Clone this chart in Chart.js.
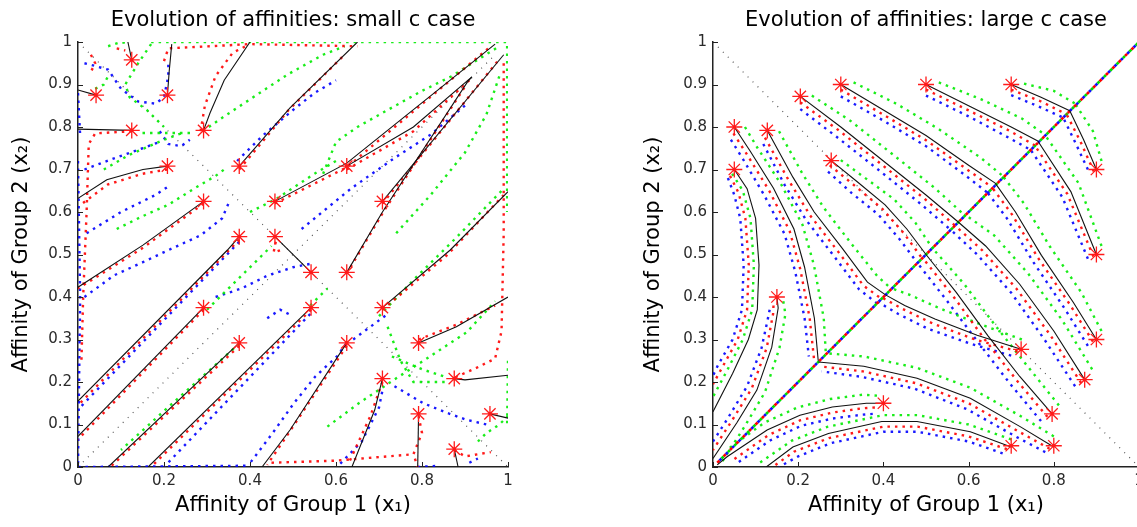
<!DOCTYPE html>
<html>
<head>
<meta charset="utf-8">
<script src="https://cdn.jsdelivr.net/npm/chart.js@4.4.1/dist/chart.umd.min.js"></script>
<style>
    body { margin: 0; width: 1137px; height: 527px; overflow: hidden; position: relative; background: #fff; }
    canvas { position: absolute; top: 0; }
</style>
</head>
<body>
<canvas id="grafikKiri" width="560" height="527" style="left:0"></canvas>
<canvas id="grafikKanan" width="620" height="527" style="left:580px"></canvas>
<script>
// axis ticks
const xTickValues = [0, 0.2, 0.4, 0.6, 0.8, 1];
const xTickLabels = ['0', '0.2', '0.4', '0.6', '0.8', '1'];
const yTickValues = [0, 0.1, 0.2, 0.3, 0.4, 0.5, 0.6, 0.7, 0.8, 0.9, 1];
const yTickLabels = ['0', '0.1', '0.2', '0.3', '0.4', '0.5', '0.6', '0.7', '0.8', '0.9', '1'];

// ---- small c case ----
const leftStars = [
    [0.125, 0.958], [0.042, 0.875], [0.208, 0.875], [0.125, 0.792], [0.292, 0.792],
    [0.208, 0.708], [0.375, 0.708], [0.292, 0.625], [0.458, 0.625], [0.625, 0.708],
    [0.375, 0.542], [0.458, 0.542], [0.542, 0.458], [0.708, 0.625], [0.625, 0.458],
    [0.292, 0.375], [0.542, 0.375], [0.375, 0.292], [0.708, 0.375], [0.625, 0.292],
    [0.792, 0.292], [0.708, 0.208], [0.875, 0.208], [0.792, 0.125], [0.958, 0.125],
    [0.875, 0.042]
];
const leftBlack = [
    [[0.125, 0.958], [0.116, 1.0]],
    [[0.042, 0.875], [0.0, 0.887]],
    [[0.208, 0.875], [0.212, 0.93], [0.218, 0.995]],
    [[0.125, 0.792], [0.0, 0.795]],
    [[0.292, 0.792], [0.307, 0.833], [0.34, 0.91], [0.40, 1.0]],
    [[0.208, 0.708], [0.151, 0.70], [0.067, 0.676], [0.0, 0.632]],
    [[0.375, 0.708], [0.493, 0.845], [0.65, 1.0]],
    [[0.292, 0.625], [0.151, 0.522], [0.0, 0.423]],
    [[0.458, 0.625], [0.625, 0.715], [0.97, 0.995]],
    [[0.625, 0.708], [0.78, 0.80], [0.916, 0.918]],
    [[0.708, 0.625], [0.99, 0.97]],
    [[0.625, 0.458], [0.708, 0.60], [0.905, 0.905], [0.916, 0.918]],
    [[0.375, 0.542], [0.347, 0.51], [0.0, 0.155]],
    [[0.458, 0.542], [0.542, 0.458]],
    [[0.292, 0.375], [0.0, 0.072]],
    [[0.375, 0.292], [0.07, 0.0]],
    [[0.542, 0.375], [0.163, 0.0]],
    [[0.625, 0.292], [0.493, 0.087], [0.428, 0.0]],
    [[0.708, 0.375], [0.865, 0.51], [1.0, 0.648]],
    [[0.792, 0.292], [0.88, 0.33], [1.0, 0.40]],
    [[0.708, 0.208], [0.69, 0.134], [0.637, 0.0]],
    [[0.875, 0.208], [0.90, 0.205], [1.0, 0.216]],
    [[0.792, 0.125], [0.79, 0.0]],
    [[0.958, 0.125], [1.0, 0.115]],
    [[0.875, 0.042], [0.884, 0.0]]
];
const leftRed = [
    [[0.20, 0.955], [0.21, 0.985], [0.40, 0.995], [0.65, 0.99]],
    [[0.285, 0.79], [0.295, 0.85], [0.32, 0.92], [0.36, 0.975], [0.39, 0.99]],
    [[0.125, 0.79], [0.04, 0.785], [0.025, 0.76], [0.02, 0.60], [0.012, 0.40], [0.008, 0.25]],
    [[0.208, 0.70], [0.15, 0.69], [0.07, 0.665], [0.01, 0.62]],
    [[0.292, 0.62], [0.15, 0.515], [0.0, 0.42]],
    [[0.375, 0.70], [0.49, 0.84], [0.62, 0.97]],
    [[0.458, 0.62], [0.625, 0.705], [0.96, 0.99]],
    [[0.625, 0.70], [0.78, 0.79], [0.91, 0.91]],
    [[0.708, 0.62], [0.98, 0.96]],
    [[0.625, 0.455], [0.71, 0.60], [0.90, 0.895]],
    [[0.375, 0.535], [0.0, 0.145]],
    [[0.292, 0.37], [0.0, 0.065]],
    [[0.375, 0.285], [0.075, 0.0]],
    [[0.542, 0.37], [0.17, 0.0]],
    [[0.625, 0.285], [0.49, 0.08], [0.44, 0.005]],
    [[0.708, 0.37], [0.86, 0.50], [0.99, 0.64]],
    [[0.792, 0.30], [0.88, 0.335], [0.97, 0.38]],
    [[0.99, 0.95], [0.99, 0.55], [0.985, 0.32], [0.97, 0.255], [0.92, 0.23], [0.875, 0.21]],
    [[0.708, 0.20], [0.68, 0.12], [0.63, 0.01]],
    [[0.45, 0.01], [0.60, 0.015], [0.72, 0.025], [0.78, 0.03]],
    [[0.792, 0.12], [0.80, 0.08], [0.78, 0.03], [0.79, 0.0]],
    [[0.875, 0.04], [0.90, 0.025], [0.96, 0.035]],
    [[0.46, 0.53], [0.455, 0.505], [0.47, 0.51]],
    [[0.03, 0.97], [0.04, 0.95], [0.03, 0.93]],
    [[0.09, 0.985], [0.11, 0.98]]
];
const leftGreen = [
    [[0.17, 1.0], [0.998, 1.0], [0.998, 0.60]],
    [[1.0, 0.25], [0.998, 0.10]],
    [[0.07, 0.99], [0.10, 1.0], [0.12, 0.995]],
    [[0.04, 0.89], [0.06, 0.90], [0.07, 0.92]],
    [[0.17, 0.995], [0.14, 0.95], [0.11, 0.90], [0.12, 0.87], [0.16, 0.84], [0.20, 0.80]],
    [[0.15, 0.786], [0.27, 0.786]],
    [[0.06, 0.70], [0.12, 0.735], [0.20, 0.77], [0.24, 0.785]],
    [[0.09, 0.56], [0.15, 0.59], [0.21, 0.617], [0.27, 0.655], [0.32, 0.685], [0.34, 0.70]],
    [[0.29, 0.79], [0.34, 0.825], [0.40, 0.865], [0.49, 0.925], [0.57, 0.97], [0.62, 0.99]],
    [[0.57, 0.69], [0.60, 0.765], [0.65, 0.80], [0.72, 0.84], [0.80, 0.885], [0.87, 0.92], [0.94, 0.965], [0.98, 0.99]],
    [[0.40, 0.60], [0.46, 0.63], [0.55, 0.69], [0.60, 0.72]],
    [[0.74, 0.55], [0.82, 0.64], [0.90, 0.74], [0.95, 0.83], [0.98, 0.92]],
    [[0.58, 0.095], [0.653, 0.15], [0.736, 0.206], [0.82, 0.261], [0.904, 0.317], [0.97, 0.39]],
    [[0.70, 0.355], [0.78, 0.44], [0.88, 0.54], [0.99, 0.655]],
    [[0.30, 0.37], [0.37, 0.44], [0.45, 0.52]],
    [[0.375, 0.29], [0.22, 0.15], [0.10, 0.04]],
    [[0.54, 0.38], [0.58, 0.42]],
    [[0.72, 0.33], [0.75, 0.25], [0.78, 0.20], [0.86, 0.20]],
    [[0.93, 0.06], [0.95, 0.08], [0.98, 0.10], [1.0, 0.12]],
    [[0.73, 0.26], [0.80, 0.23], [0.86, 0.21]]
];
const leftBlue = [
    [[0.0, 0.88], [0.005, 0.78]],
    [[0.0, 0.72], [0.005, 0.40], [0.0, 0.0]],
    [[0.0, 0.0], [0.40, 0.003]],
    [[0.015, 0.95], [0.035, 0.945], [0.07, 0.935], [0.10, 0.89], [0.14, 0.86], [0.18, 0.855], [0.20, 0.87], [0.21, 0.92], [0.21, 0.95]],
    [[0.19, 0.79], [0.21, 0.76], [0.24, 0.755], [0.26, 0.77]],
    [[0.015, 0.70], [0.08, 0.725], [0.15, 0.75], [0.19, 0.765]],
    [[0.02, 0.55], [0.10, 0.60], [0.18, 0.64], [0.21, 0.66]],
    [[0.015, 0.40], [0.084, 0.451], [0.151, 0.482], [0.218, 0.514], [0.285, 0.545], [0.335, 0.585], [0.35, 0.62]],
    [[0.37, 0.72], [0.43, 0.78], [0.50, 0.84], [0.55, 0.88], [0.60, 0.91]],
    [[0.52, 0.56], [0.636, 0.656], [0.736, 0.727], [0.82, 0.782], [0.904, 0.854]],
    [[0.375, 0.53], [0.0, 0.135]],
    [[0.32, 0.40], [0.38, 0.42], [0.44, 0.45], [0.50, 0.47], [0.55, 0.48]],
    [[0.44, 0.35], [0.47, 0.37], [0.49, 0.36]],
    [[0.54, 0.36], [0.20, 0.0]],
    [[0.402, 0.012], [0.452, 0.079], [0.502, 0.15], [0.552, 0.213], [0.603, 0.261], [0.63, 0.30]],
    [[0.61, 0.008], [0.66, 0.06], [0.70, 0.14], [0.71, 0.19]],
    [[0.64, 0.30], [0.68, 0.33], [0.72, 0.36]],
    [[0.736, 0.19], [0.803, 0.15], [0.862, 0.126], [0.904, 0.111], [0.95, 0.10]],
    [[0.79, 0.0], [0.84, 0.003]],
    [[0.91, 0.01], [0.93, 0.02]]
];
const leftGuides = [
    [[0, 0], [0.97, 0.97]],
    [[0, 1], [1, 0]]
];

// ---- large c case ----
const rightStars = [
    [0.05, 0.80], [0.05, 0.70], [0.1275, 0.792], [0.205, 0.872], [0.30, 0.90], [0.50, 0.90],
    [0.70, 0.90], [0.2775, 0.721], [0.15, 0.40], [0.40, 0.15], [0.70, 0.05], [0.80, 0.05],
    [0.796, 0.125], [0.8725, 0.2055], [0.7233, 0.277], [0.90, 0.30], [0.90, 0.50], [0.90, 0.70]
];
const rightBlack = [
    [[0.05, 0.70], [0.08, 0.655], [0.10, 0.585], [0.108, 0.475], [0.104, 0.37], [0.083, 0.30], [0.046, 0.22], [0, 0.13]],
    [[0.05, 0.80], [0.0875, 0.743], [0.142, 0.656], [0.19, 0.56], [0.215, 0.47], [0.238, 0.35], [0.247, 0.25]],
    [[0.15, 0.40], [0.153, 0.374], [0.138, 0.282], [0.103, 0.181], [0.056, 0.104], [0, 0.02]],
    [[0.40, 0.15], [0.36, 0.15], [0.28, 0.141], [0.204, 0.122], [0.127, 0.087], [0.033, 0.024], [0.01, 0.005]],
    [[0.70, 0.047], [0.604, 0.083], [0.479, 0.107], [0.396, 0.107], [0.271, 0.079], [0.1875, 0.047], [0.125, 0]],
    [[0.80, 0.047], [0.721, 0.095], [0.604, 0.162], [0.479, 0.209], [0.354, 0.237], [0.2475, 0.247]],
    [[0.1275, 0.792], [0.1875, 0.682], [0.2375, 0.60], [0.304, 0.514], [0.3625, 0.435], [0.405, 0.405]],
    [[0.2775, 0.721], [0.34, 0.67], [0.404, 0.617], [0.455, 0.56], [0.50, 0.50]],
    [[0.205, 0.872], [0.30, 0.80], [0.40, 0.72], [0.50, 0.64], [0.575, 0.577]],
    [[0.30, 0.90], [0.40, 0.84], [0.50, 0.78], [0.60, 0.71], [0.6625, 0.668]],
    [[0.50, 0.90], [0.60, 0.85], [0.70, 0.80], [0.7625, 0.767]],
    [[0.70, 0.90], [0.77, 0.87], [0.8375, 0.838]],
    [[0.7233, 0.277], [0.62, 0.31], [0.521, 0.348], [0.45, 0.38], [0.405, 0.405]],
    [[0.796, 0.125], [0.72, 0.213], [0.646, 0.308], [0.571, 0.411], [0.50, 0.50]],
    [[0.8725, 0.2055], [0.80, 0.32], [0.72, 0.43], [0.64, 0.52], [0.575, 0.577]],
    [[0.90, 0.30], [0.846, 0.387], [0.771, 0.498], [0.71, 0.60], [0.6625, 0.668]],
    [[0.90, 0.50], [0.84, 0.648], [0.7625, 0.767]],
    [[0.90, 0.70], [0.87, 0.77], [0.8375, 0.838]]
];
const rightRed = [
    [[0.04, 0.685], [0.06, 0.645], [0.076, 0.585], [0.084, 0.475], [0.08, 0.37], [0.058, 0.30], [0.022, 0.235], [0, 0.195]],
    [[0.048, 0.785], [0.08, 0.735], [0.132, 0.65], [0.18, 0.555], [0.205, 0.465], [0.227, 0.35], [0.237, 0.255]],
    [[0.142, 0.38], [0.141, 0.36], [0.126, 0.28], [0.091, 0.185], [0.045, 0.11], [0, 0.04]],
    [[0.38, 0.14], [0.35, 0.138], [0.28, 0.128], [0.205, 0.11], [0.13, 0.075], [0.045, 0.015]],
    [[0.69, 0.042], [0.60, 0.072], [0.48, 0.095], [0.40, 0.095], [0.272, 0.068], [0.19, 0.036], [0.14, 0]],
    [[0.79, 0.043], [0.715, 0.085], [0.60, 0.15], [0.477, 0.197], [0.352, 0.225], [0.25, 0.237]],
    [[0.122, 0.775], [0.178, 0.674], [0.228, 0.592], [0.295, 0.505], [0.353, 0.427], [0.395, 0.396]],
    [[0.274, 0.71], [0.335, 0.66], [0.398, 0.607], [0.448, 0.55], [0.49, 0.492]],
    [[0.205, 0.858], [0.298, 0.79], [0.398, 0.71], [0.498, 0.63], [0.568, 0.568]],
    [[0.30, 0.888], [0.40, 0.829], [0.50, 0.769], [0.598, 0.699], [0.655, 0.658]],
    [[0.50, 0.888], [0.60, 0.839], [0.70, 0.789], [0.755, 0.757]],
    [[0.70, 0.888], [0.77, 0.86], [0.83, 0.83]],
    [[0.715, 0.272], [0.615, 0.30], [0.515, 0.338], [0.445, 0.372], [0.398, 0.398]],
    [[0.785, 0.118], [0.712, 0.205], [0.638, 0.30], [0.563, 0.403], [0.492, 0.492]],
    [[0.864, 0.198], [0.792, 0.31], [0.712, 0.42], [0.632, 0.51], [0.568, 0.568]],
    [[0.892, 0.295], [0.838, 0.382], [0.763, 0.492], [0.702, 0.594], [0.655, 0.658]],
    [[0.893, 0.495], [0.832, 0.642], [0.755, 0.757]],
    [[0.894, 0.695], [0.863, 0.765], [0.83, 0.83]]
];
const rightGreen = [
    [[0.045, 0.69], [0.07, 0.65], [0.088, 0.585], [0.096, 0.475], [0.092, 0.37], [0.07, 0.30], [0.032, 0.225], [0, 0.165]],
    [[0.075, 0.80], [0.105, 0.75], [0.16, 0.665], [0.21, 0.57], [0.237, 0.475], [0.26, 0.35], [0.265, 0.265]],
    [[0.165, 0.39], [0.17, 0.36], [0.156, 0.28], [0.122, 0.176], [0.074, 0.095], [0.02, 0.01]],
    [[0.385, 0.168], [0.35, 0.17], [0.275, 0.16], [0.198, 0.14], [0.12, 0.104], [0.035, 0.042]],
    [[0.70, 0.065], [0.60, 0.10], [0.48, 0.122], [0.40, 0.122], [0.27, 0.095], [0.185, 0.062], [0.11, 0.01]],
    [[0.80, 0.072], [0.725, 0.118], [0.605, 0.186], [0.48, 0.233], [0.355, 0.26], [0.262, 0.268]],
    [[0.155, 0.79], [0.21, 0.69], [0.26, 0.61], [0.325, 0.525], [0.385, 0.45], [0.42, 0.418]],
    [[0.30, 0.722], [0.36, 0.678], [0.425, 0.63], [0.475, 0.575], [0.515, 0.515]],
    [[0.232, 0.874], [0.322, 0.815], [0.42, 0.737], [0.52, 0.657], [0.59, 0.593]],
    [[0.33, 0.905], [0.43, 0.855], [0.53, 0.795], [0.628, 0.728], [0.68, 0.685]],
    [[0.53, 0.905], [0.63, 0.865], [0.725, 0.82], [0.778, 0.783]],
    [[0.73, 0.902], [0.80, 0.885], [0.85, 0.855]],
    [[0.725, 0.30], [0.63, 0.335], [0.535, 0.372], [0.462, 0.405], [0.42, 0.42]],
    [[0.812, 0.145], [0.74, 0.235], [0.665, 0.33], [0.59, 0.43], [0.515, 0.515]],
    [[0.89, 0.23], [0.82, 0.345], [0.74, 0.455], [0.66, 0.545], [0.59, 0.595]],
    [[0.912, 0.32], [0.865, 0.41], [0.79, 0.52], [0.73, 0.62], [0.68, 0.685]],
    [[0.912, 0.52], [0.858, 0.668], [0.778, 0.783]],
    [[0.912, 0.72], [0.892, 0.79], [0.85, 0.855]]
];
const rightBlue = [
    [[0.035, 0.68], [0.05, 0.64], [0.064, 0.585], [0.072, 0.475], [0.068, 0.37], [0.046, 0.30], [0.012, 0.24], [0, 0.215]],
    [[0.042, 0.77], [0.07, 0.725], [0.12, 0.64], [0.168, 0.548], [0.193, 0.46], [0.215, 0.35], [0.225, 0.26]],
    [[0.133, 0.37], [0.129, 0.35], [0.114, 0.28], [0.08, 0.19], [0.035, 0.115], [0, 0.06]],
    [[0.375, 0.125], [0.35, 0.123], [0.28, 0.114], [0.207, 0.097], [0.135, 0.063], [0.055, 0.008]],
    [[0.68, 0.032], [0.60, 0.06], [0.48, 0.083], [0.40, 0.083], [0.276, 0.056], [0.20, 0.025], [0.155, 0]],
    [[0.78, 0.035], [0.71, 0.072], [0.596, 0.136], [0.474, 0.184], [0.35, 0.212], [0.255, 0.225]],
    [[0.118, 0.76], [0.168, 0.664], [0.218, 0.582], [0.284, 0.496], [0.343, 0.418], [0.385, 0.385]],
    [[0.27, 0.695], [0.325, 0.645], [0.388, 0.594], [0.438, 0.536], [0.48, 0.48]],
    [[0.205, 0.842], [0.29, 0.777], [0.39, 0.698], [0.49, 0.617], [0.558, 0.558]],
    [[0.30, 0.872], [0.40, 0.815], [0.50, 0.755], [0.59, 0.688], [0.645, 0.645]],
    [[0.50, 0.874], [0.60, 0.825], [0.692, 0.776], [0.746, 0.746]],
    [[0.70, 0.875], [0.765, 0.848], [0.822, 0.822]],
    [[0.70, 0.262], [0.605, 0.29], [0.505, 0.325], [0.435, 0.36], [0.388, 0.388]],
    [[0.77, 0.108], [0.698, 0.195], [0.625, 0.29], [0.55, 0.39], [0.48, 0.48]],
    [[0.85, 0.19], [0.778, 0.30], [0.70, 0.41], [0.62, 0.50], [0.558, 0.558]],
    [[0.88, 0.285], [0.826, 0.372], [0.752, 0.482], [0.69, 0.585], [0.645, 0.645]],
    [[0.88, 0.49], [0.82, 0.635], [0.746, 0.746]],
    [[0.88, 0.70], [0.852, 0.76], [0.822, 0.822]]
];
// the x1 = x2 line every trajectory ends on
const rightDiagonal = [[0.01, 0.01], [1.0, 1.0]];
const rightGuides = [
    [[0, 1], [1, 0]]
];

Chart.defaults.font.family = "'DejaVu Sans', sans-serif";
Chart.defaults.color = '#222';

// short tick marks pointing into the plot
const tickDalam = {
    id: 'tickDalam',
    afterDraw(chart) {
        const { ctx, chartArea, scales } = chart;
        ctx.save();
        ctx.strokeStyle = '#222';
        ctx.lineWidth = 1;
        ctx.beginPath();
        scales.x.ticks.forEach(function (t) {
            let px = Math.round(scales.x.getPixelForValue(t.value)) + 0.5;
            ctx.moveTo(px, chartArea.bottom);
            ctx.lineTo(px, chartArea.bottom - 5);
        });
        scales.y.ticks.forEach(function (t) {
            let py = Math.round(scales.y.getPixelForValue(t.value)) + 0.5;
            ctx.moveTo(chartArea.left, py);
            ctx.lineTo(chartArea.left + 5, py);
        });
        ctx.stroke();
        ctx.restore();
    }
};

function toXY(path) {
    return path.map(function (p) { return { x: p[0], y: p[1] }; });
}

function garis(paths, color, width, dash, order, dashOffset) {
    return paths.map(function (path) {
        return {
            data: toXY(path),
            showLine: true,
            borderColor: color,
            borderWidth: width,
            borderDash: dash,
            borderDashOffset: dashOffset || 0,
            pointRadius: 0,
            fill: false,
            order: order
        };
    });
}

function buatGrafik(idGrafik, judul, param) {
    let datasets = [{
        data: toXY(param.stars),
        showLine: false,
        pointStyle: 'star',
        pointRadius: 8,
        borderColor: '#ff1a1a',
        backgroundColor: '#ff1a1a',
        borderWidth: 1.3,
        order: 0
    }];
    datasets = datasets
        .concat(garis(param.black, '#111', 1.1, [], 1))
        .concat(garis(param.red, 'rgba(255, 0, 0, 0.9)', 2.4, [2.5, 5], 2))
        .concat(garis(param.green, 'rgba(0, 235, 0, 0.9)', 2.4, [2.5, 5], 3))
        .concat(garis(param.blue, 'rgba(0, 0, 255, 0.9)', 2.4, [2.5, 5], 4))
        .concat(garis(param.guides, '#555', 1.2, [1, 6], 5));

    if (param.diagonal) {
        // colours alternate along the shared line
        datasets = datasets
            .concat(garis([param.diagonal], '#ff0000', 2.6, [3, 6], 2, 0))
            .concat(garis([param.diagonal], '#00e000', 2.6, [3, 6], 2, 3))
            .concat(garis([param.diagonal], '#1010ff', 2.6, [3, 6], 2, 6));
    }

    return new Chart(idGrafik, {
        type: 'scatter',
        data: { datasets: datasets },
        plugins: [tickDalam],
        options: {
            responsive: false,
            animation: false,
            devicePixelRatio: 1,
            layout: { padding: { left: 0, right: param.padKanan, top: 0, bottom: 0 } },
            plugins: {
                legend: { display: false },
                tooltip: { enabled: false },
                title: {
                    display: true,
                    text: judul,
                    fullSize: false,
                    color: '#000',
                    font: { size: 21, weight: 'normal', lineHeight: 1.2 },
                    padding: { top: 8, bottom: 8.8 }
                }
            },
            scales: {
                x: {
                    type: 'linear',
                    min: 0,
                    max: 1,
                    afterBuildTicks: function (scale) {
                        scale.ticks = xTickValues.map(function (v) { return { value: v }; });
                    },
                    afterFit: function (scale) { scale.height = 60; },
                    grid: { display: false, drawTicks: false },
                    border: { display: true, color: '#222', width: 1.5 },
                    ticks: {
                        padding: 5,
                        color: '#2a2a2a',
                        font: { size: 15 },
                        maxRotation: 0,
                        callback: function (value, index) { return xTickLabels[index]; }
                    },
                    title: {
                        display: true,
                        text: 'Affinity of Group 1 (x₁)',
                        color: '#000',
                        font: { size: 21, lineHeight: 1.2 },
                        padding: { top: 0, bottom: 8.7 }
                    }
                },
                y: {
                    type: 'linear',
                    min: 0,
                    max: 1,
                    afterBuildTicks: function (scale) {
                        scale.ticks = yTickValues.map(function (v) { return { value: v }; });
                    },
                    afterFit: function (scale) { scale.width = param.lebarY; },
                    grid: { display: false, drawTicks: false },
                    border: { display: true, color: '#222', width: 1.5 },
                    ticks: {
                        padding: 6,
                        color: '#2a2a2a',
                        font: { size: 15 },
                        callback: function (value, index) { return yTickLabels[index]; }
                    },
                    title: {
                        display: true,
                        text: 'Affinity of Group 2 (x₂)',
                        color: '#000',
                        font: { size: 21, lineHeight: 1.2 },
                        padding: { top: param.padJudulY, bottom: 0 }
                    }
                }
            }
        }
    });
}

buatGrafik('grafikKiri', 'Evolution of affinities: small c case', {
    stars: leftStars, black: leftBlack, red: leftRed, green: leftGreen, blue: leftBlue,
    guides: leftGuides, lebarY: 78, padKanan: 52, padJudulY: 9
});
buatGrafik('grafikKanan', 'Evolution of affinities: large c case', {
    stars: rightStars, black: rightBlack, red: rightRed, green: rightGreen, blue: rightBlue,
    guides: rightGuides, diagonal: rightDiagonal, lebarY: 133, padKanan: 61, padJudulY: 61
});
</script>
</body>
</html>
